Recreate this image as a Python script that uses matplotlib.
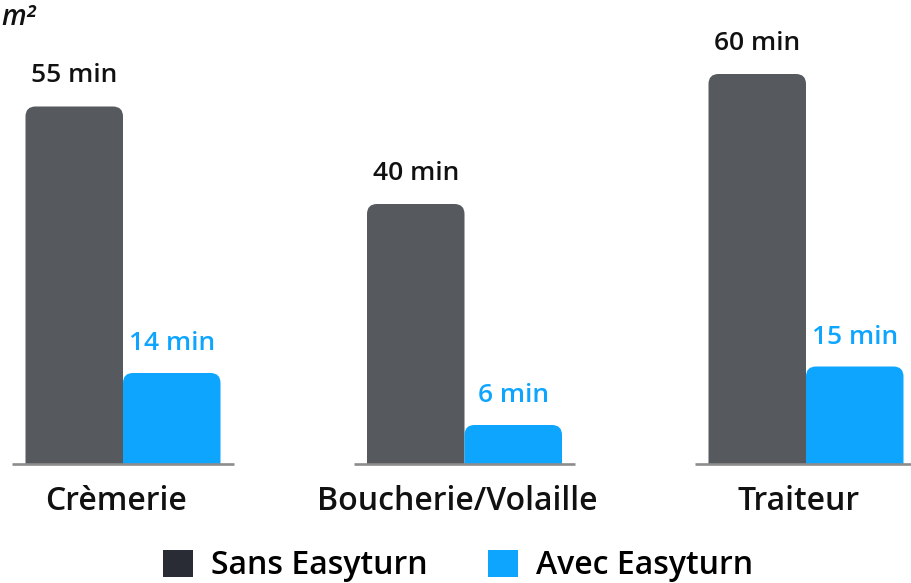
import matplotlib.pyplot as plt
from matplotlib.patches import FancyBboxPatch, Rectangle, Patch

# data
categories = ["Crèmerie", "Boucherie/Volaille", "Traiteur"]
sans = [55, 40, 60]
avec = [14, 6, 15]
series_names = ["Sans Easyturn", "Avec Easyturn"]

DARK = "#56595e"
DARK_LEG = "#292c34"
BLUE = "#0ea5ff"
LINE = "#8c8c8c"
FONT = "Open Sans"

plt.rcParams['font.family'] = [FONT, 'DejaVu Sans']

W, H = 911, 583
fig = plt.figure(figsize=(W / 100, H / 100), dpi=100)
ax = fig.add_axes([0, 0, 1, 1])
ax.set_axis_off()

# pixel mapping: x unit = 341.5 px, y unit = 6.5 px, baseline 119 px from bottom
xs_px, ys_px = 341.5, 6.5
ax.set_xlim(-123 / xs_px, (W - 123) / xs_px)
ax.set_ylim(-119 / ys_px, (H - 119) / ys_px)

bw = 97.5 / xs_px
r = 10 / xs_px
asp = xs_px / ys_px

clip = Rectangle((-10, 0), 100, 1000, transform=ax.transData)


def rounded_bar(x0, h, color):
    extra = r * asp
    p = FancyBboxPatch((x0, -extra), bw, h + extra,
                       boxstyle=f"round,pad=0,rounding_size={r}",
                       mutation_aspect=asp, fc=color, ec="none", zorder=2)
    ax.add_patch(p)
    p.set_clip_path(clip)


for i, cat in enumerate(categories):
    rounded_bar(i - bw, sans[i], DARK)
    rounded_bar(i, avec[i], BLUE)
    ax.hlines(0, i - 0.325, i + 0.325, color=LINE, lw=1.9, zorder=3)
    ax.annotate(f"{sans[i]} min", (i - bw / 2, sans[i]), xytext=(0, 22),
                textcoords="offset points", ha="center", va="center",
                fontsize=19, fontweight="semibold", color="#111111")
    ax.annotate(f"{avec[i]} min", (i + bw / 2, avec[i]), xytext=(0, 21),
                textcoords="offset points", ha="center", va="center",
                fontsize=19, fontweight="semibold", color=BLUE)
    ax.annotate(cat, (i, 0), xytext=(-5, -27), textcoords="offset points",
                ha="center", va="center", fontsize=23, fontweight="semibold",
                color="#111111")

fig.text(1 / W, 1 - 25 / H, "m²", style="italic", fontsize=20,
         fontweight="semibold", color="#111111", va="baseline", ha="left")

handles = [Patch(fc=DARK_LEG, ec="none"), Patch(fc=BLUE, ec="none")]
fig.legend(handles, series_names, loc="center", bbox_to_anchor=(458 / W, 17 / H),
           ncol=2, frameon=False, handlelength=0.95, handleheight=0.95,
           handletextpad=0.55, columnspacing=1.9, borderpad=0, borderaxespad=0,
           prop={"family": FONT, "size": 23, "weight": "semibold"})

fig.savefig("out.png", dpi=100, facecolor="white")
